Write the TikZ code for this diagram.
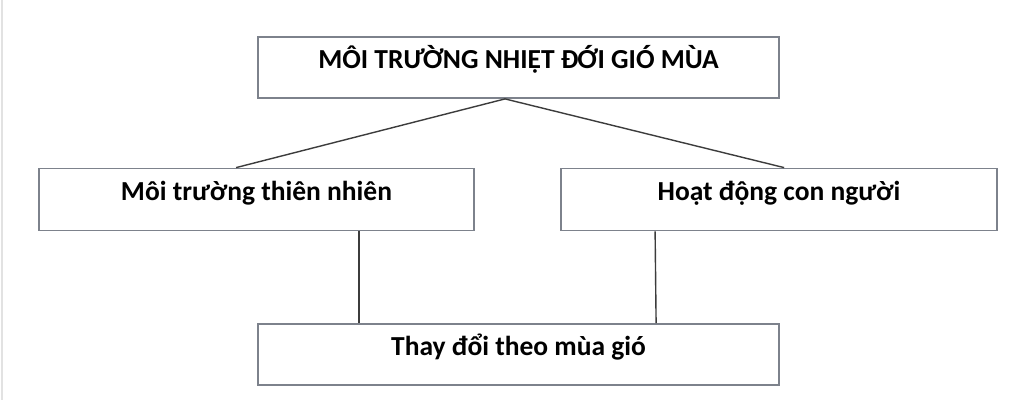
\documentclass[tikz,border=0pt]{standalone}
\usepackage{fontspec}
\setmainfont{Carlito}
\definecolor{boxline}{HTML}{7D828C}
\definecolor{conn}{HTML}{3C3C3C}
\definecolor{edge}{HTML}{E2E2E2}
\begin{document}
\begin{tikzpicture}[x=1pt,y=-1pt,
  box/.style={draw=boxline,line width=1.8pt,rectangle,inner sep=0pt,
    font=\fontsize{27.5}{30}\selectfont\bfseries,text=black,
    text height=13pt,text depth=11pt},
  conn/.style={draw=conn,line width=1.4pt}]
\useasboundingbox[fill=white] (0,0) rectangle (1024,400);
\draw[edge,line width=2pt] (2,0) -- (2,400);
\node[box,minimum width=521pt,minimum height=61pt] (t) at (518.5,67.5) {MÔI TRƯỜNG NHIỆT ĐỚI GIÓ MÙA};
\node[box,minimum width=435pt,minimum height=62pt] (l) at (256.5,199.5) {Môi trường thiên nhiên};
\node[box,minimum width=436pt,minimum height=62pt] (r) at (779,199.5) {Hoạt động con người};
\node[box,minimum width=521pt,minimum height=61pt] (b) at (518.5,354.5) {Thay đổi theo mùa gió};
\coordinate (tj) at ([xshift=-13.5pt]t.south);
\draw[conn] (tj) -- ([xshift=198pt]l.north west);
\draw[conn] (tj) -- ([xshift=224pt]r.north west);
\draw[conn] ([xshift=321pt]l.south west) -- ([xshift=102pt]b.north west);
\draw[conn] ([xshift=95pt]r.south west) -- ([xshift=399pt]b.north west);
\end{tikzpicture}
\end{document}
